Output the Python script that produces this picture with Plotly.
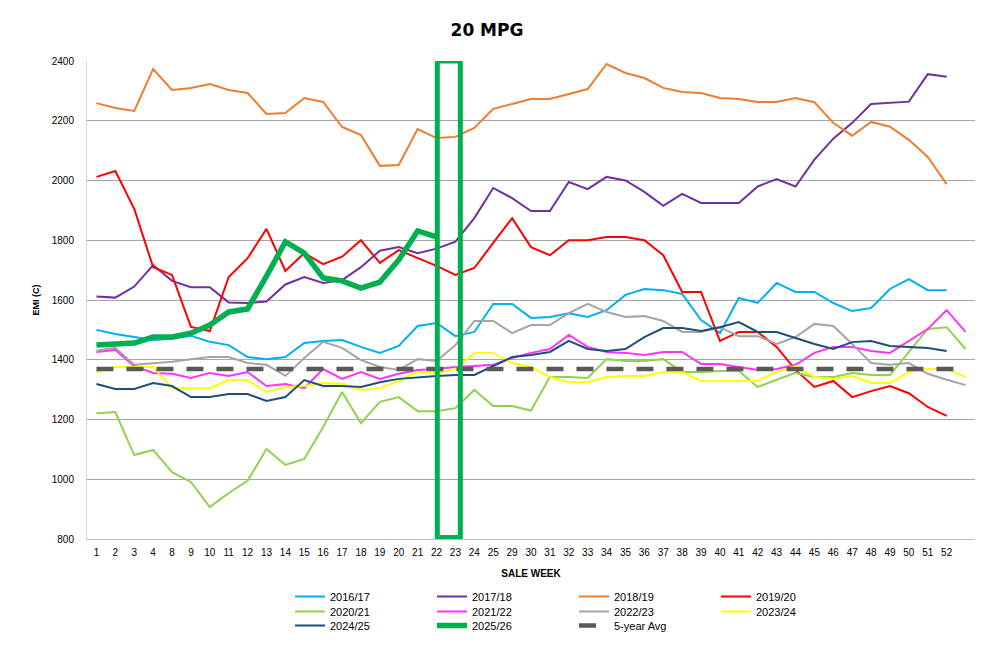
import plotly.graph_objects as go

WEEKS = ["1", "2", "3", "4", "8", "9", "10", "11", "12", "13", "14", "15", "16", "17", "18",
         "19", "20", "21", "22", "23", "24", "25", "29", "30", "31", "32", "33", "34", "35",
         "36", "37", "38", "39", "40", "41", "42", "43", "44", "45", "46", "47", "48", "49",
         "50", "51", "52", ""]

S_2016_17 = [1500, 1486, 1476, 1466, 1470, 1480, 1460, 1449, 1409, 1402, 1409, 1456, 1463, 1466,
             1443, 1423, 1446, 1513, 1523, 1479, 1493, 1587, 1587, 1540, 1543, 1556, 1543, 1566,
             1617, 1637, 1633, 1620, 1533, 1489, 1607, 1590, 1657, 1627, 1627, 1590, 1563, 1573,
             1637, 1670, 1633, 1633]
S_2017_18 = [1612, 1608, 1645, 1717, 1664, 1643, 1643, 1592, 1590, 1595, 1652, 1677, 1657, 1667,
             1710, 1765, 1777, 1757, 1772, 1795, 1874, 1975, 1941, 1898, 1898, 1995, 1971, 2012,
             2000, 1962, 1915, 1955, 1925, 1925, 1925, 1980, 2005, 1980, 2070, 2140, 2193, 2256,
             2260, 2264, 2356, 2347]
S_2018_19 = [2259, 2243, 2233, 2373, 2303, 2310, 2323, 2303, 2293, 2223, 2226, 2276, 2263, 2179,
             2152, 2049, 2052, 2172, 2142, 2146, 2176, 2240, 2256, 2273, 2273, 2290, 2306, 2390,
             2360, 2343, 2310, 2296, 2293, 2276, 2273, 2263, 2263, 2276, 2262, 2193, 2150, 2196,
             2180, 2136, 2079, 1988]
S_2019_20 = [2012, 2032, 1905, 1710, 1684, 1510, 1496, 1677, 1740, 1838, 1697, 1757, 1720, 1745,
             1800, 1724, 1767, 1740, 1714, 1684, 1707, 1791, 1874, 1777, 1750, 1800, 1800, 1811,
             1811, 1800, 1750, 1627, 1627, 1463, 1493, 1493, 1443, 1366, 1309, 1329, 1275, 1295,
             1312, 1288, 1242, 1212]
S_2020_21 = [1221, 1225, 1081, 1098, 1024, 991, 907, 954, 995, 1101, 1048, 1068, 1175, 1292,
             1188, 1259, 1275, 1228, 1228, 1238, 1299, 1245, 1245, 1230, 1342, 1342, 1339, 1402,
             1396, 1396, 1402, 1359, 1359, 1362, 1362, 1309, 1333, 1356, 1342, 1342, 1356, 1349,
             1349, 1426, 1503, 1509, 1436]
S_2021_22 = [1426, 1433, 1379, 1356, 1353, 1339, 1356, 1346, 1359, 1312, 1319, 1305, 1369, 1336,
             1359, 1336, 1353, 1366, 1369, 1376, 1379, 1383, 1406, 1423, 1436, 1483, 1443, 1426,
             1423, 1416, 1426, 1426, 1386, 1386, 1376, 1366, 1369, 1383, 1423, 1443, 1443, 1429,
             1423, 1463, 1503, 1566, 1493]
S_2022_23 = [1430, 1440, 1383, 1389, 1393, 1402, 1409, 1409, 1389, 1383, 1346, 1406, 1460, 1440,
             1399, 1376, 1366, 1402, 1396, 1449, 1530, 1530, 1489, 1516, 1516, 1556, 1587, 1560,
             1543, 1546, 1530, 1493, 1493, 1509, 1479, 1479, 1453, 1476, 1520, 1513, 1453, 1389,
             1383, 1389, 1353, 1333, 1315]
S_2023_24 = [1359, 1376, 1376, 1376, 1305, 1305, 1305, 1332, 1332, 1292, 1309, 1312, 1322, 1319,
             1299, 1305, 1329, 1359, 1356, 1369, 1423, 1423, 1389, 1376, 1342, 1325, 1325, 1342,
             1346, 1346, 1359, 1359, 1329, 1329, 1329, 1329, 1359, 1379, 1342, 1336, 1346, 1322,
             1322, 1359, 1369, 1369, 1342]
S_2024_25 = [1319, 1302, 1302, 1322, 1312, 1275, 1275, 1285, 1285, 1262, 1275, 1332, 1312, 1312,
             1309, 1325, 1336, 1342, 1346, 1349, 1349, 1379, 1409, 1416, 1426, 1463, 1436, 1429,
             1436, 1476, 1506, 1506, 1496, 1509, 1526, 1493, 1493, 1473, 1453, 1436, 1459, 1463,
             1446, 1443, 1439, 1429]
S_2025_26 = [1449, 1453, 1456, 1476, 1476, 1489, 1516, 1560, 1570, 1680, 1795, 1757, 1674, 1664,
             1640, 1660, 1734, 1831, 1811]
AVG_5YR = [1369] * 47

HIGHLIGHT_WEEKS = ["22", "23"]

# (name, values, colour, width, dash, legend row)
SERIES = [
    ("2016/17", S_2016_17, "#00B0F0", 2, None, "legend"),
    ("2017/18", S_2017_18, "#7030A0", 2, None, "legend"),
    ("2018/19", S_2018_19, "#ED7D31", 2, None, "legend"),
    ("2019/20", S_2019_20, "#FF0000", 2, None, "legend"),
    ("2020/21", S_2020_21, "#92D050", 2, None, "legend2"),
    ("2021/22", S_2021_22, "#FF33FF", 2, None, "legend2"),
    ("2022/23", S_2022_23, "#A5A5A5", 2, None, "legend2"),
    ("2023/24", S_2023_24, "#FFFF00", 2, None, "legend2"),
    ("2024/25", S_2024_25, "#1F4E79", 2, None, "legend3"),
    ("2025/26", S_2025_26, "#00B050", 5.5, None, "legend3"),
    ("5-year Avg", AVG_5YR, "#595959", 4.5, "17px,13px", "legend3"),
]

FONT = "Liberation Sans"

fig = go.Figure()
for name, vals, color, width, dash, leg in SERIES:
    line = dict(color=color, width=width)
    if dash:
        line["dash"] = dash
    fig.add_trace(go.Scatter(
        x=list(range(len(vals))), y=vals, mode="lines", name=name, line=line, legend=leg,
    ))

i0 = WEEKS.index(HIGHLIGHT_WEEKS[0])
i1 = WEEKS.index(HIGHLIGHT_WEEKS[1])
fig.add_shape(type="rect", xref="x", yref="y",
              x0=i0 + 0.04, x1=i1 + 0.26, y0=805, y1=2400,
              line=dict(color="#00B050", width=5), fillcolor="rgba(0,0,0,0)", layer="above")

W, H = 979, 640


def legend_row(top_px):
    return dict(
        orientation="h", x=282 / W, xref="container", xanchor="left",
        y=1 - top_px / H, yref="container", yanchor="top",
        entrywidth=97, entrywidthmode="pixels",
        font=dict(size=11, family=FONT), itemwidth=30, traceorder="normal",
        bgcolor="rgba(0,0,0,0)",
    )


fig.update_layout(
    width=W, height=H,
    margin=dict(l=79, r=12, t=53, b=109, autoexpand=False),
    paper_bgcolor="white", plot_bgcolor="white",
    font=dict(family=FONT, size=10, color="#000000"),
    title=dict(text="<b>20 MPG</b>", x=479 / W, xref="container", xanchor="center",
               y=1 - 22 / H, yref="container", yanchor="middle",
               font=dict(family="DejaVu Sans", size=17, color="#000000")),
    xaxis=dict(
        range=[-0.5, len(WEEKS) - 0.5],
        tickmode="array", tickvals=list(range(len(WEEKS))), ticktext=WEEKS,
        showgrid=False, showline=True, linecolor="#BFBFBF", linewidth=1,
        ticks="", tickfont=dict(size=10, family=FONT), ticklabelstandoff=4,
        title=dict(text="<b>SALE WEEK</b>", font=dict(size=10, family=FONT), standoff=12),
        zeroline=False, automargin=False,
    ),
    yaxis=dict(
        range=[800, 2400], tickvals=list(range(800, 2401, 200)),
        showgrid=True, gridcolor="#A6A6A6", gridwidth=1,
        showline=True, linecolor="#D9D9D9", linewidth=1,
        ticks="", tickfont=dict(size=10, family=FONT), ticklabelstandoff=10,
        title=dict(text="<b>EMI (C)</b>", font=dict(size=9, family=FONT), standoff=10),
        zeroline=False, automargin=False,
    ),
    legend=legend_row(574),
    legend2=legend_row(589),
    legend3=legend_row(603),
    showlegend=True,
)

fig.write_html("out.html")
